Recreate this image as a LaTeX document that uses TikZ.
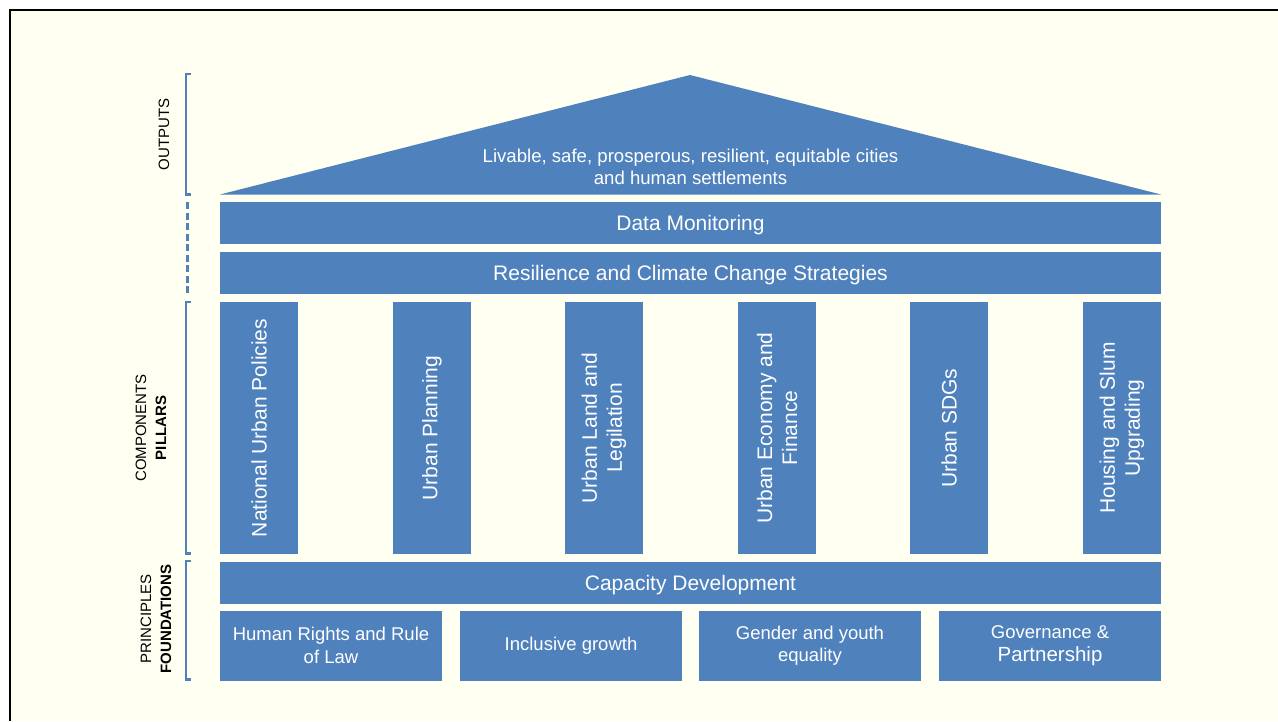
\documentclass[tikz,border=0pt]{standalone}
\usepackage{fontspec}
\setmainfont{Liberation Sans}
\usetikzlibrary{positioning}
\definecolor{pillarblue}{HTML}{4F81BD}
\definecolor{paper}{HTML}{FFFFF2}
\tikzset{
  block/.style={fill=pillarblue, text=white, inner sep=0pt, align=center,
                font=\fontsize{21}{25}\selectfont},
  bar/.style={block, minimum width=941pt, minimum height=42pt,
              text height=15pt, text depth=0pt},
  pillar/.style={block, rotate=90, minimum width=252pt, minimum height=78pt},
  base/.style={block, minimum width=222pt, minimum height=70pt,
               font=\fontsize{18.5}{22.5}\selectfont},
  side/.style={rotate=90, align=center, font=\fontsize{15}{20}\selectfont},
  brace/.style={draw=pillarblue, line width=2.3pt}
}

\begin{document}
\begin{tikzpicture}[x=1pt,y=-1pt]
\useasboundingbox (0,0) rectangle (1278,721);
\fill[paper] (10,10) rectangle (1278,721);
\draw[line width=2pt] (10,721) -- (10,10.3) -- (1278,10.3);

\fill[pillarblue] (220,194.5) -- (690,75) -- (1161,194.5) -- cycle;
\node[font=\fontsize{18.6}{22}\selectfont, text=white, align=center] (roof) at (690.5,166.5)
  {Livable, safe, prosperous, resilient, equitable cities\\and human settlements};

\node[bar] (data) at (690.5,223) {Data Monitoring};
\node[bar] (climate) at (690.5,273) {Resilience and Climate Change Strategies};

\node[pillar] (nup) at (259,428) {National Urban Policies};
\node[pillar] (planning) at (432,428) {Urban Planning};
\node[pillar] (land) at (604,428) {Urban Land and\\Legilation};
\node[pillar] (economy) at (777,428) {Urban Economy and\\Finance};
\node[pillar] (sdgs) at (949,428) {Urban SDGs};
\node[pillar] (housing) at (1122,428) {Housing and Slum\\Upgrading};

\node[bar] (capacity) at (690.5,583) {Capacity Development};

\node[base] (rights) at (331,645.5) {Human Rights and Rule\\of Law};
\node[base] (growth) at (571,645.5) {Inclusive growth};
\node[base] (gender) at (810,645.5) {Gender and youth\\equality};
\node[base] (governance) at (1050,645.5)
  {Governance \&\\[1pt]{\fontsize{20.5}{24}\selectfont Partnership}};

\draw[brace] (191,74) -- (186,74) -- (186,194.5) -- (191,194.5);
\draw[pillarblue, line width=2.3pt, dash pattern=on 7pt off 3.5pt] (187.5,202) -- (187.5,294);
\draw[brace] (191,302) -- (186,302) -- (186,553.5) -- (191,553.5);
\draw[brace] (191,561) -- (186,561) -- (186,679.5) -- (191,679.5);

\node[side] (outputs) at (164,134.5) {OUTPUTS};
\node[side] (components) at (151,428) {COMPONENTS\\\textbf{PILLARS}};
\node[side] (principles) at (156,619) {PRINCIPLES\\\textbf{FOUNDATIONS}};
\end{tikzpicture}
\end{document}
